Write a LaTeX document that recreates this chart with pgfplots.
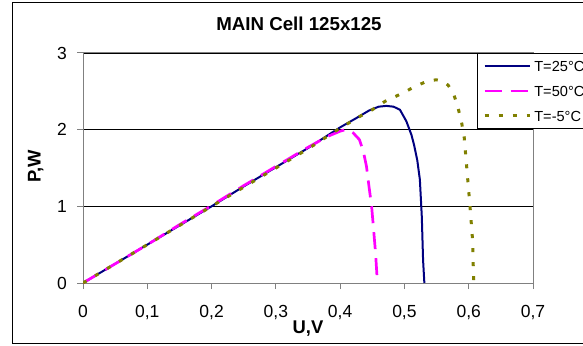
\documentclass[border=0pt]{standalone}
\usepackage{fontspec}
\setmainfont{Liberation Sans}
\usepackage{pgfplots}
\pgfplotsset{compat=1.18}
\definecolor{navy}{RGB}{0,0,128}
\definecolor{olv}{RGB}{128,128,0}
\definecolor{mag}{RGB}{255,0,255}
\definecolor{axgray}{RGB}{128,128,128}
\begin{document}
\begin{tikzpicture}[x=1pt,y=1pt]
\path[use as bounding box] (0,0) rectangle (583,345);
\fill[white] (0,0) rectangle (583,345);
\draw[black, line width=1pt] (12.3,1.7) rectangle (600,342.3);
\begin{axis}[
  at={(83pt,62pt)}, anchor=south west, scale only axis,
  width=450pt, height=230pt,
  xmin=0, xmax=0.7, ymin=0, ymax=3,
  xtick={0,0.1,0.2,0.3,0.4,0.5,0.6,0.7}, ytick={0,1,2,3},
  /pgf/number format/.cd, use comma, fixed, assume math mode=true, /pgfplots/.cd,
  tick pos=left, tick align=outside, major tick length=6pt,
  every tick/.style={axgray, line width=1pt},
  axis line style={axgray, line width=1pt},
  ymajorgrids, major grid style={black, line width=0.8pt},
  tick label style={font=\fontsize{17.5}{20}\selectfont},
  xticklabel style={anchor=base, inner sep=0pt, yshift=-28pt},
  yticklabel style={anchor=east, inner sep=0pt, xshift=-10pt},
  title={MAIN Cell 125x125},
  title style={font=\fontsize{18.7}{22}\selectfont\bfseries, at={(axis description cs:0.48,1.0722)}, anchor=base, inner sep=0pt},
  xlabel={U,V},
  xlabel style={font=\fontsize{18.4}{22}\selectfont\bfseries, at={(axis description cs:0.5,-0.2204)}, anchor=base, inner sep=0pt},
  ylabel={P,W},
  ylabel style={font=\fontsize{18.4}{22}\selectfont\bfseries, at={(axis description cs:-0.094,0.506)}, rotate=0, anchor=base, inner sep=0pt},
  legend style={at={(axis description cs:0.8756,1)}, anchor=north west, draw=black, line width=1pt, fill=white,
    font=\fontsize{14.6}{17}\selectfont, inner xsep=5.7pt, inner ysep=0pt, row sep=0pt, column sep=2.5pt,
    nodes={inner sep=0pt, text height=17.75pt, text depth=7.25pt}},
  legend cell align=left,
  legend image code/.code={\draw[#1] (0pt,0pt) -- (45.6pt,0pt);},
]
\addplot[navy, line width=2pt] coordinates {
(0,0)(0.05,0.25)(0.1,0.5)(0.15,0.75)(0.2,1.0)(0.25,1.26)(0.3,1.51)(0.35,1.76)(0.4,2.03)(0.425,2.15)(0.445,2.25)(0.46,2.30)(0.472,2.31)(0.483,2.30)(0.493,2.26)(0.503,2.11)(0.511,1.93)(0.515,1.80)(0.52,1.6)(0.524,1.35)(0.527,0.87)(0.529,0.3)(0.531,0)};
\addlegendentry{T=25°C}
\addplot[mag, line width=2.7pt, dash pattern=on 17pt off 9pt] coordinates {
(0,0)(0.05,0.25)(0.1,0.5)(0.15,0.76)(0.2,1.01)(0.25,1.27)(0.3,1.52)(0.35,1.77)(0.38,1.91)(0.40,1.98)(0.408,2.0)(0.415,1.99)(0.42,1.96)(0.43,1.87)(0.436,1.72)(0.441,1.52)(0.445,1.25)(0.449,1.0)(0.452,0.7)(0.455,0.4)(0.458,0)};
\addlegendentry{T=50°C}
\addplot[olv, line width=3pt, dash pattern=on 4pt off 10pt] coordinates {
(0,0)(0.05,0.25)(0.1,0.5)(0.15,0.75)(0.2,1.0)(0.25,1.25)(0.3,1.5)(0.35,1.75)(0.4,2.02)(0.43,2.17)(0.45,2.26)(0.47,2.37)(0.493,2.46)(0.516,2.56)(0.537,2.64)(0.55,2.65)(0.56,2.63)(0.568,2.58)(0.576,2.48)(0.583,2.3)(0.589,2.09)(0.593,1.9)(0.597,1.5)(0.602,1.0)(0.606,0.56)(0.607,0.24)(0.608,0)};
\addlegendentry{T=-5°C}
\end{axis}
\end{tikzpicture}
\end{document}
